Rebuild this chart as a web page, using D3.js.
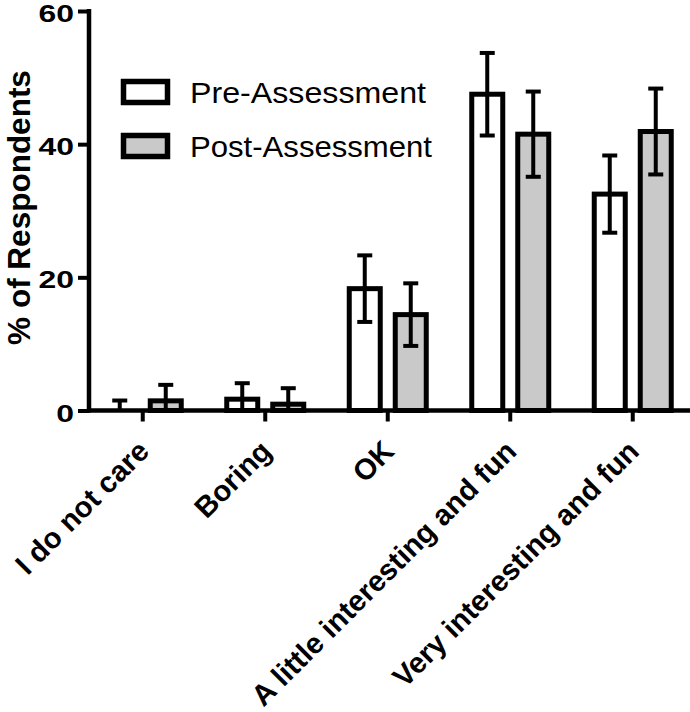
<!DOCTYPE html>
<html>
<head>
<meta charset="utf-8">
<script src="https://cdn.jsdelivr.net/npm/d3@7/dist/d3.min.js"></script>
<style>
  html, body { margin: 0; padding: 0; background: #fff; }
  svg { display: block; }
  text { font-family: "Liberation Sans", Arial, Helvetica, sans-serif; fill: #000; }
</style>
</head>
<body>
<svg id="chart" width="690" height="712"></svg>
<script>
const categories = ["I do not care", "Boring", "OK", "A little interesting and fun", "Very interesting and fun"];
const seriesNames = ["Pre-Assessment", "Post-Assessment"];
const preValues = [0, 1.7, 18.3, 47.5, 32.5];
const preErrors = [1.5, 2.4, 5.0, 6.2, 5.8];
const postValues = [1.45, 0.95, 14.4, 41.5, 41.9];
const postErrors = [2.4, 2.4, 4.7, 6.4, 6.45];
const yTicks = [0, 20, 40, 60];
const yTitle = "% of Respondents";

const fills = ["#ffffff", "#c9c9c9"];

const svg = d3.select("#chart");
const axisX = 89, y0px = 410.5, ytop = 11;

const x = d3.scaleBand().domain(categories).range([81.5, 694]);
const y = d3.scaleLinear().domain([0, 60]).range([y0px, ytop]);

const data = categories.map((c, i) => ({
  cat: c,
  vals: [
    { s: seriesNames[0], v: preValues[i], e: preErrors[i], f: fills[0] },
    { s: seriesNames[1], v: postValues[i], e: postErrors[i], f: fills[1] }
  ]
}));

const barW = 31;
const offsets = [-23, 23];

const g = svg.append("g");
data.forEach(d => {
  d.vals.forEach((b, j) => {
    const cx = x(d.cat) + x.bandwidth() / 2 + offsets[j];
    if (b.v > 0) {
      g.append("rect")
        .attr("x", cx - barW / 2)
        .attr("y", y(b.v))
        .attr("width", barW)
        .attr("height", y(0) - y(b.v))
        .attr("fill", b.f)
        .attr("stroke", "#000")
        .attr("stroke-width", 5);
    }
    const lo = Math.max(0, b.v - b.e);
    g.append("line")
      .attr("x1", cx).attr("x2", cx)
      .attr("y1", y(b.v + b.e)).attr("y2", y(lo))
      .attr("stroke", "#000").attr("stroke-width", 4);
    g.append("line")
      .attr("x1", cx - 7.5).attr("x2", cx + 7.5)
      .attr("y1", y(b.v + b.e)).attr("y2", y(b.v + b.e))
      .attr("stroke", "#000").attr("stroke-width", 4);
    if (b.v - b.e > 0) {
      g.append("line")
        .attr("x1", cx - 7.5).attr("x2", cx + 7.5)
        .attr("y1", y(b.v - b.e)).attr("y2", y(b.v - b.e))
        .attr("stroke", "#000").attr("stroke-width", 4);
    }
  });
});

// Y axis
const yAxis = d3.axisLeft(y).tickValues(yTicks).tickSize(11).tickFormat("");
const ya = svg.append("g").attr("transform", `translate(${axisX},0)`).call(yAxis);
ya.select(".domain").remove();
ya.selectAll(".tick line").attr("stroke", "#000").attr("stroke-width", 4);
svg.append("line").attr("x1", axisX).attr("x2", axisX).attr("y1", ytop - 2).attr("y2", y0px + 2)
  .attr("stroke", "#000").attr("stroke-width", 4.5);

yTicks.forEach(t => {
  svg.append("text")
    .attr("transform", `translate(74,${y(t) + 11}) scale(1.33,1)`)
    .attr("text-anchor", "end")
    .attr("font-size", 24)
    .attr("font-weight", "bold")
    .text(t);
});

// X axis
const xAxis = d3.axisBottom(x).tickSize(11).tickFormat("");
const xa = svg.append("g").attr("transform", `translate(0,${y0px})`).call(xAxis);
xa.select(".domain").remove();
xa.selectAll(".tick line").attr("stroke", "#000").attr("stroke-width", 4);
svg.append("line").attr("x1", axisX - 2).attr("x2", 690).attr("y1", y0px).attr("y2", y0px)
  .attr("stroke", "#000").attr("stroke-width", 4.5);

categories.forEach(c => {
  const cx = x(c) + x.bandwidth() / 2;
  svg.append("text")
    .attr("transform", `translate(${cx + 8},453) rotate(-45)`)
    .attr("text-anchor", "end")
    .attr("font-size", 29.3)
    .attr("font-weight", "bold")
    .text(c);
});

// Y title
svg.append("text")
  .attr("transform", `translate(30,207.5) rotate(-90)`)
  .attr("text-anchor", "middle")
  .attr("font-size", 31.5)
  .attr("font-weight", "bold")
  .text(yTitle);

// Legend
const legY = [92, 146];
seriesNames.forEach((s, i) => {
  svg.append("rect")
    .attr("x", 123.5).attr("y", legY[i] - 10.5)
    .attr("width", 44).attr("height", 21)
    .attr("fill", fills[i]).attr("stroke", "#000").attr("stroke-width", 5.5);
  svg.append("text")
    .attr("x", 190).attr("y", legY[i] + 11)
    .attr("font-size", 30)
    .attr("textLength", i === 0 ? 236 : 242)
    .attr("lengthAdjust", "spacingAndGlyphs")
    .text(s);
});
</script>
</body>
</html>
